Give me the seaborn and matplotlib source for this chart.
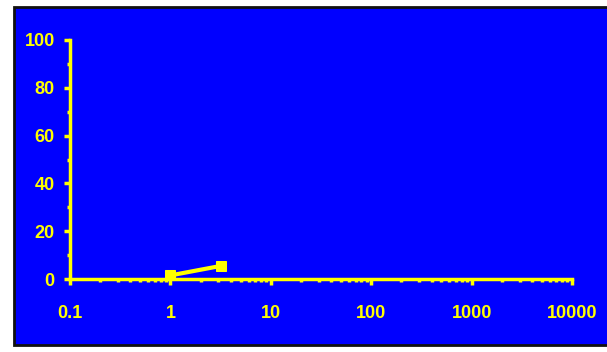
import matplotlib
matplotlib.use("Agg")
import matplotlib.pyplot as plt
import matplotlib.patches as patches
from matplotlib import ticker, font_manager
import seaborn as sns
import pandas as pd

# data
x_vals = [1, 3.2]
y_vals = [1.5, 5.5]
x_ticks = [0.1, 1, 10, 100, 1000, 10000]
x_labels = ["0.1", "1", "10", "100", "1000", "10000"]
y_ticks = [0, 20, 40, 60, 80, 100]

sns.set_theme(style="white")
names = {f.name for f in font_manager.fontManager.ttflist}
fam = ["Liberation Sans Narrow", "Liberation Sans", "DejaVu Sans"]
plt.rcParams["font.family"] = [f for f in fam if f in names] or ["DejaVu Sans"]
narrow = "Liberation Sans Narrow" in names

yellow = "#FFFF00"
blue = "#0000FF"
W, H = 607, 352

fig = plt.figure(figsize=(W / 100, H / 100), dpi=100)
fig.patch.set_facecolor("white")

# background axes holding the blue panel with black frame
bg_ax = fig.add_axes([0, 0, 1, 1], zorder=-10)
bg_ax.set_axis_off()
bg_ax.set_xlim(0, W)
bg_ax.set_ylim(H, 0)
bg_ax.add_patch(patches.Rectangle((14, 7), W, 338, facecolor=blue,
                                  edgecolor="#111111", linewidth=2))

ax = fig.add_axes([70 / W, (H - 279) / H, (572 - 70) / W, (279 - 40) / H])
ax.set_facecolor("none")

df = pd.DataFrame({"x": x_vals, "y": y_vals})
sns.lineplot(data=df, x="x", y="y", ax=ax, color=yellow, linewidth=3,
             marker="s", markersize=7, markeredgecolor=yellow, clip_on=False)

ax.set_xscale("log")
ax.set_xlim(0.1, 10000)
ax.set_ylim(0, 100)
ax.set_xticks(x_ticks)
ax.set_xticklabels(x_labels)
ax.xaxis.set_minor_locator(ticker.LogLocator(base=10, subs=range(2, 10), numticks=20))
ax.xaxis.set_minor_formatter(ticker.NullFormatter())
ax.set_yticks(y_ticks)
ax.yaxis.set_minor_locator(ticker.MultipleLocator(10))
ax.set_xlabel("")
ax.set_ylabel("")

for s in ["top", "right"]:
    ax.spines[s].set_visible(False)
for s in ["left", "bottom"]:
    ax.spines[s].set_color(yellow)
    ax.spines[s].set_linewidth(2.5)

fs = 15 if narrow else 13
ax.tick_params(which="both", bottom=True, left=True, direction="out",
               color=yellow, width=2.5)
ax.tick_params(which="major", length=4, labelcolor=yellow, labelsize=fs)
ax.tick_params(which="minor", length=2.4)
ax.tick_params(axis="x", which="major", pad=15)
ax.tick_params(axis="y", which="major", pad=7)
for lab in ax.get_xticklabels() + ax.get_yticklabels():
    lab.set_fontweight("bold")

fig.savefig("out.png", dpi=100, facecolor=fig.get_facecolor())
